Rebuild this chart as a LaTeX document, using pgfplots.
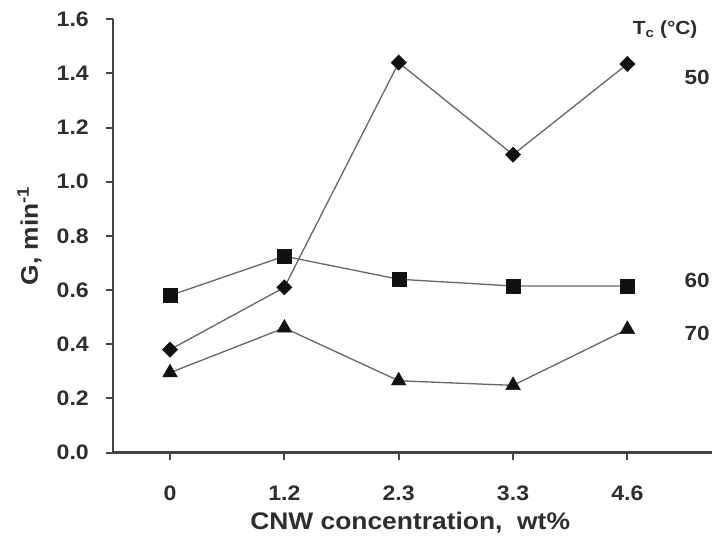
\documentclass[border=0pt]{standalone}
\usepackage{pgfplots}
\pgfplotsset{compat=1.18}
\usepackage{fontspec}
\setmainfont{Liberation Sans}[FakeStretch=1.1]

\definecolor{txt}{HTML}{2E2E2E}
\definecolor{axc}{HTML}{444444}
\definecolor{linec}{HTML}{666666}
\definecolor{mk}{HTML}{111111}

\begin{document}
\begin{tikzpicture}[x=1pt,y=1pt]
\useasboundingbox (0,0) rectangle (714,-544);
\begin{axis}[
  at={(113pt,-452.5pt)}, anchor=south west,
  scale only axis, width=599pt, height=433.2pt,
  xmin=-0.4987, xmax=4.74, ymin=0, ymax=1.6,
  axis x line*=bottom, axis y line*=left,
  axis line style={line width=2.5pt, color=axc},
  tick align=outside, major tick length=7pt,
  every tick/.style={line width=2pt, color=axc},
  xtick={0,1,2,3,4}, xticklabels={0,1.2,2.3,3.3,4.6},
  ytick={0,0.2,0.4,0.6,0.8,1.0,1.2,1.4,1.6},
  yticklabels={0.0,0.2,0.4,0.6,0.8,1.0,1.2,1.4,1.6},
  font=\bfseries\fontsize{21}{25}\selectfont,
  tick label style={text=txt, font=\bfseries\fontsize{21}{25}\selectfont},
  xticklabel style={anchor=center, inner sep=0pt, yshift=-34pt},
  yticklabel style={anchor=east, inner sep=0pt, xshift=-17pt},
  clip=false,
  xlabel={CNW concentration,\ \ wt\%},
  ylabel={G, min\textsuperscript{-1}},
  every axis x label/.style={at={(axis cs:2.1,0)}, anchor=center, yshift=-70pt,
    text=txt, font=\bfseries\fontsize{24}{28}\selectfont},
  every axis y label/.style={at={(axis cs:-1.23,0.80)}, anchor=center, rotate=90,
    text=txt, font=\bfseries\fontsize{24}{28}\selectfont},
]
% T_c = 50 C
\addplot[color=linec, line width=1.3pt, mark=square*, mark size=5.4pt,
  mark options={rotate=45, fill=mk, draw=mk, line width=0.4pt}]
  coordinates {(0,0.38) (1,0.61) (2,1.44) (3,1.10) (4,1.435)};
% T_c = 60 C
\addplot[color=linec, line width=1.3pt, mark=square*, mark size=7pt,
  mark options={fill=mk, draw=mk, line width=0.4pt}]
  coordinates {(0,0.58) (1,0.725) (2,0.64) (3,0.615) (4,0.615)};
% T_c = 70 C
\addplot[color=linec, line width=1.3pt, mark=triangle*, mark size=8.5pt,
  mark options={fill=mk, draw=mk, line width=0.4pt}]
  coordinates {(0,0.295) (1,0.46) (2,0.265) (3,0.248) (4,0.455)};

\node[text=txt, font=\bfseries\fontsize{19}{23}\selectfont] at (axis cs:4.33,1.561) {T\textsubscript{c} (°C)};
\node[text=txt, font=\bfseries\fontsize{20.5}{24}\selectfont] at (axis cs:4.61,1.387) {50};
\node[text=txt, font=\bfseries\fontsize{20.5}{24}\selectfont] at (axis cs:4.61,0.637) {60};
\node[text=txt, font=\bfseries\fontsize{20.5}{24}\selectfont] at (axis cs:4.61,0.441) {70};
\end{axis}
\end{tikzpicture}
\end{document}
